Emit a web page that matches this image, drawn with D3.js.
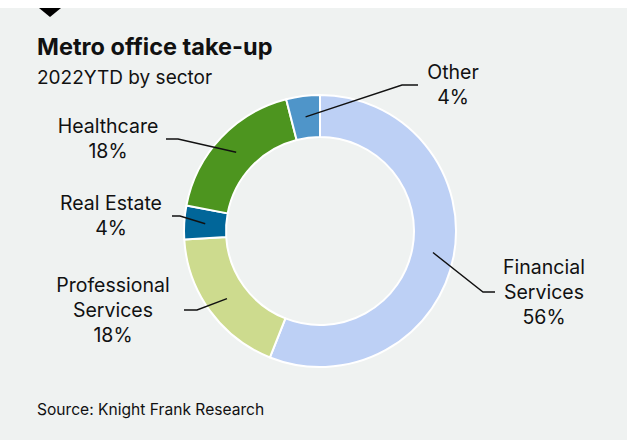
<!DOCTYPE html>
<html>
<head>
<meta charset="utf-8">
<script src="https://cdn.jsdelivr.net/npm/d3@7"></script>
<style>
  html, body { margin: 0; padding: 0; background: #ffffff; }
  svg { display: block; }
  text { font-family: Inter, "Liberation Sans", sans-serif; fill: #111111; }
</style>
</head>
<body>
<svg id="chart" width="627" height="443"></svg>
<script>
// Office take-up by sector, 2022 year to date (percent of total)
const sectors = ["Financial Services", "Professional Services", "Real Estate", "Healthcare", "Other"];
const shares = [56, 18, 4, 18, 4];
const sectorColors = ["#bdd0f5", "#cddb8e", "#016699", "#4d951f", "#4f95c9"];
// Label text lines per sector
const labelLines = [
  ["Financial", "Services"],
  ["Professional", "Services"],
  ["Real Estate"],
  ["Healthcare"],
  ["Other"]
];

// Label placement: text centre, block middle, and where the leader line meets the text
const labelLayout = [
  { x: 544, y: 292, elbowX: 483, endX: 495 },
  { x: 113, y: 310, elbowX: 197, endX: 184 },
  { x: 111, y: 216, elbowX: 180, endX: 172 },
  { x: 108, y: 139, elbowX: 178, endX: 166 },
  { x: 453, y: 85,  elbowX: 402, endX: 418 }
];

const W = 627, H = 443;
const svg = d3.select("#chart");

// Panel background and marker
svg.append("rect").attr("x", 0).attr("y", 8).attr("width", W).attr("height", 432).attr("fill", "#eff2f1");
svg.append("path").attr("d", "M39,8 L61,8 L50,17 Z").attr("fill", "#000000");

// Titles
svg.append("text").attr("x", 37).attr("y", 55)
  .style("font-size", "23.5px").style("font-weight", 700)
  .text("Metro office take-up");
svg.append("text").attr("x", 37).attr("y", 84)
  .style("font-size", "19px")
  .text("2022YTD by sector");
svg.append("text").attr("x", 37).attr("y", 415)
  .style("font-size", "15.6px")
  .text("Source: Knight Frank Research");

// Donut
const cx = 320, cy = 231, outerR = 136, innerR = 94;
const pie = d3.pie().sort(null).value(d => d.value);
const arc = d3.arc().innerRadius(innerR).outerRadius(outerR);
const labelArc = d3.arc().innerRadius((innerR + outerR) / 2).outerRadius((innerR + outerR) / 2);

const data = sectors.map((s, i) => ({ name: s, value: shares[i], color: sectorColors[i], lines: labelLines[i], layout: labelLayout[i] }));
const arcs = pie(data);

const g = svg.append("g").attr("transform", `translate(${cx},${cy})`);
g.selectAll("path.slice").data(arcs).join("path")
  .attr("class", "slice")
  .attr("d", arc)
  .attr("fill", d => d.data.color)
  .attr("stroke", "#ffffff")
  .attr("stroke-width", 2)
  .attr("stroke-linejoin", "round");

// Leader lines from the middle of each ring segment to its label
const leaders = svg.append("g");
arcs.forEach(d => {
  const [px, py] = labelArc.centroid(d);
  const L = d.data.layout;
  leaders.append("polyline")
    .attr("points", [[cx + px, cy + py], [L.elbowX, L.y], [L.endX, L.y]].map(p => p.join(",")).join(" "))
    .attr("fill", "none")
    .attr("stroke", "#111111")
    .attr("stroke-width", 1.4);
});

// Labels: name lines then percentage
const lineH = 25;
const labels = svg.append("g");
arcs.forEach(d => {
  const L = d.data.layout;
  const lines = d.data.lines.concat([d.data.value + "%"]);
  const n = lines.length;
  // baseline of first line so the block is centred on L.y
  const first = L.y - (n - 1) * lineH / 2 + 6.5;
  const t = labels.append("text").attr("text-anchor", "middle").style("font-size", "19.5px");
  lines.forEach((ln, i) => {
    t.append("tspan").attr("x", L.x).attr("y", first + i * lineH).text(ln);
  });
});
</script>
</body>
</html>
